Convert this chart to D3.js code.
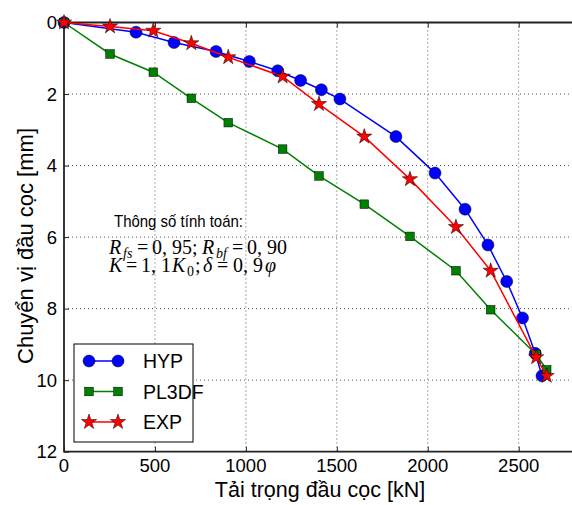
<!DOCTYPE html>
<html>
<head>
<meta charset="utf-8">
<script src="https://cdn.jsdelivr.net/npm/d3@7/dist/d3.min.js"></script>
<style>
  body { margin: 0; background: #fff; }
  svg { display: block; font-family: "Liberation Sans", Arial, sans-serif; }
</style>
</head>
<body>
<div id="chart"></div>
<script>
// Load-displacement curves of pile head, three models

const hypLoad = [0, 396, 605, 836, 1019, 1175, 1301, 1415, 1517, 1825, 2040, 2205, 2331, 2434, 2521, 2591, 2628];
const hypDisp = [0, 0.27, 0.56, 0.81, 1.09, 1.35, 1.62, 1.88, 2.14, 3.19, 4.21, 5.22, 6.22, 7.24, 8.26, 9.25, 9.88];

const plLoad = [0, 253, 491, 700, 903, 1202, 1402, 1651, 1902, 2155, 2346, 2596, 2654];
const plDisp = [0, 0.88, 1.39, 2.12, 2.80, 3.54, 4.29, 5.08, 5.98, 6.94, 8.03, 9.28, 9.71];

const expLoad = [0, 253, 491, 700, 903, 1202, 1402, 1651, 1902, 2155, 2346, 2596, 2654];
const expDisp = [0, 0.11, 0.23, 0.58, 0.97, 1.51, 2.28, 3.19, 4.38, 5.72, 6.94, 9.36, 9.88];

const xTicks = [0, 500, 1000, 1500, 2000, 2500];
const yTicks = [0, 2, 4, 6, 8, 10, 12];

const series = [
    {name: 'HYP', load: hypLoad, disp: hypDisp, color: '#0000ff', marker: 'circle'},
    {name: 'PL3DF', load: plLoad, disp: plDisp, color: '#008000', marker: 'square'},
    {name: 'EXP', load: expLoad, disp: expDisp, color: '#ff0000', marker: 'star'}
];

const W = 572, H = 505;
const plotLeft = 64, plotTop = 22.5, plotBottom = 451.7;

const svg = d3.select('#chart').append('svg')
    .attr('width', W)
    .attr('height', H);

const x = d3.scaleLinear().domain([0, 2800]).range([plotLeft, plotLeft + 2800 * 0.18188]);
const y = d3.scaleLinear().domain([0, 12]).range([plotTop, plotBottom]);

// grid
const grid = svg.append('g')
    .attr('stroke', '#555')
    .attr('stroke-width', 1)
    .attr('stroke-dasharray', '1,3');
grid.selectAll('.vg').data(xTicks.slice(1)).enter().append('line')
    .attr('x1', d => x(d)).attr('x2', d => x(d))
    .attr('y1', plotTop).attr('y2', plotBottom);
grid.selectAll('.hg').data(yTicks.slice(1, -1)).enter().append('line')
    .attr('x1', plotLeft).attr('x2', W)
    .attr('y1', d => y(d)).attr('y2', d => y(d));

// axes (ticks pointing inward)
svg.append('g')
    .attr('transform', `translate(0,${plotBottom})`)
    .call(d3.axisTop(x).tickValues(xTicks).tickSize(5).tickFormat(''));
svg.append('g')
    .attr('transform', `translate(${plotLeft},0)`)
    .call(d3.axisRight(y).tickValues(yTicks).tickSize(5).tickFormat(''));
svg.append('g')
    .attr('transform', `translate(0,${plotTop})`)
    .call(d3.axisBottom(x).tickValues(xTicks).tickSize(5).tickFormat(''));
svg.selectAll('.tick line').attr('stroke', '#222').attr('stroke-width', 1);
svg.selectAll('.domain').remove();

// frame
svg.append('path')
    .attr('d', `M${W + 2},${plotTop}H${plotLeft}V${plotBottom}H${W + 2}`)
    .attr('fill', 'none')
    .attr('stroke', '#222')
    .attr('stroke-width', 1.8);

// tick labels
svg.selectAll('.xl').data(xTicks).enter().append('text')
    .attr('x', d => x(d))
    .attr('y', 471.5)
    .attr('text-anchor', 'middle')
    .style('font-size', '18.5px')
    .text(d => d);
svg.selectAll('.yl').data(yTicks).enter().append('text')
    .attr('x', 57)
    .attr('y', d => y(d) + 6.5)
    .attr('text-anchor', 'end')
    .style('font-size', '18.5px')
    .text(d => d);

// axis titles
svg.append('text')
    .attr('x', 320)
    .attr('y', 497)
    .attr('text-anchor', 'middle')
    .style('font-size', '21.5px')
    .text('Tải trọng đầu cọc [kN]');
svg.append('text')
    .attr('transform', 'translate(33,246) rotate(-90)')
    .attr('text-anchor', 'middle')
    .style('font-size', '22px')
    .text('Chuyển vị đầu cọc [mm]');

// markers
function drawMarker(g, type, color) {
    if (type === 'circle') {
        g.append('circle').attr('r', 6).attr('fill', color).attr('stroke', '#000').attr('stroke-width', 0.5);
    } else if (type === 'square') {
        g.append('rect').attr('x', -4.3).attr('y', -4.3).attr('width', 8.6).attr('height', 8.6)
            .attr('fill', color).attr('stroke', '#000').attr('stroke-width', 0.5);
    } else {
        g.append('path').attr('d', d3.symbol(d3.symbolStar, 72)())
            .attr('fill', color).attr('stroke', '#000').attr('stroke-width', 0.5);
    }
}

const line = d3.line();
series.forEach(s => {
    const pts = s.load.map((v, i) => [x(v), y(s.disp[i])]);
    svg.append('path')
        .attr('d', line(pts))
        .attr('fill', 'none')
        .attr('stroke', s.color)
        .attr('stroke-width', 1.5);
    pts.forEach(p => {
        const g = svg.append('g').attr('transform', `translate(${p[0]},${p[1]})`);
        drawMarker(g, s.marker, s.color);
    });
});

// annotation
const note = svg.append('g');
note.append('text')
    .attr('x', 114).attr('y', 227)
    .attr('textLength', 129)
    .attr('lengthAdjust', 'spacingAndGlyphs')
    .style('font-size', '17px')
    .text('Thông số tính toán:');

const serif = '"Liberation Serif", "DejaVu Serif", serif';
function mathPiece(px, py, txt, italic, small) {
    note.append('text')
        .attr('x', px).attr('y', py)
        .style('font-family', serif)
        .style('font-size', small ? '14px' : '20px')
        .style('font-style', italic ? 'italic' : 'normal')
        .text(txt);
}
// line 1: R_fs = 0, 95; R_bf = 0, 90
mathPiece(109, 254, 'R', true);
mathPiece(123, 258, 'fs', true, true);
mathPiece(137, 254, '=', false);
mathPiece(152, 254, '0, 95;', false);
mathPiece(202, 254, 'R', true);
mathPiece(216, 258, 'bf', true, true);
mathPiece(232, 254, '=', false);
mathPiece(247, 254, '0, 90', false);
// line 2: K = 1, 1K_0; δ = 0, 9φ
mathPiece(109, 272, 'K', true);
mathPiece(126, 272, '=', false);
mathPiece(141, 272, '1, 1', false);
mathPiece(172, 272, 'K', true);
mathPiece(187, 276, '0', false, true);
mathPiece(195, 272, ';', false);
mathPiece(203, 272, 'δ', true);
mathPiece(217, 272, '=', false);
mathPiece(233, 272, '0, 9', false);
mathPiece(265, 272, 'φ', true);

// legend
const legend = svg.append('g');
legend.append('rect')
    .attr('x', 74).attr('y', 344)
    .attr('width', 119).attr('height', 98)
    .attr('fill', '#fff')
    .attr('stroke', '#000')
    .attr('stroke-width', 1);
series.forEach((s, i) => {
    const ly = 361 + i * 30.5;
    legend.append('line')
        .attr('x1', 89).attr('x2', 118)
        .attr('y1', ly).attr('y2', ly)
        .attr('stroke', s.color).attr('stroke-width', 1.5);
    [89, 118].forEach(px => {
        drawMarker(legend.append('g').attr('transform', `translate(${px},${ly})`), s.marker, s.color);
    });
    legend.append('text')
        .attr('x', 143).attr('y', ly + 7)
        .style('font-size', '19.5px')
        .text(s.name);
});
</script>
</body>
</html>
